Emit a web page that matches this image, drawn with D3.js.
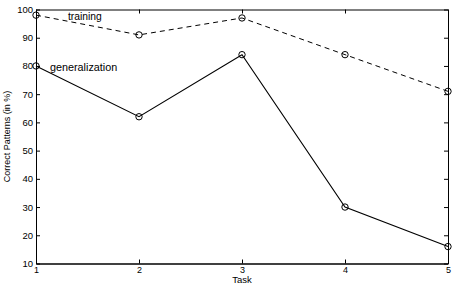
<!DOCTYPE html>
<html><head><meta charset="utf-8">
<script src="https://cdn.jsdelivr.net/npm/d3@7"></script>
<style>body{margin:0;background:#fff}svg{display:block}text{font-family:"Liberation Sans",Arial,sans-serif}</style>
</head><body><svg id="c" width="454" height="290"></svg>
<script>
const tasks = [1, 2, 3, 4, 5];
const training = [98, 91, 97, 84, 71];
const generalization = [80, 62, 84, 30, 16];
const yTicks = [10, 20, 30, 40, 50, 60, 70, 80, 90, 100];

(function () {
const svg = d3.select("#c");
const L = 36, R = 448, T = 9.5, B = 263.5;
const x = d3.scaleLinear().domain([1, 5]).range([L, R]);
const y = d3.scaleLinear().domain([10, 100]).range([B, T]);

const ax = (gen, tx, ty) => svg.append("g").attr("transform", `translate(${tx},${ty})`).call(gen);
const axB = ax(d3.axisBottom(x).tickValues(tasks).tickFormat(d3.format("d")).tickSizeInner(-4).tickSizeOuter(0).tickPadding(3), 0, B);
ax(d3.axisTop(x).tickValues(tasks).tickFormat("").tickSizeInner(-4).tickSizeOuter(0), 0, T);
ax(d3.axisLeft(y).tickValues(yTicks).tickFormat(d3.format("d")).tickSizeInner(-4).tickSizeOuter(0).tickPadding(3), L, 0);
ax(d3.axisRight(y).tickValues(yTicks).tickFormat("").tickSizeInner(-4).tickSizeOuter(0), R, 0);
svg.selectAll(".domain").attr("stroke", "#000").attr("stroke-width", 1);
svg.selectAll(".tick line").attr("stroke", "#000");
svg.selectAll(".tick text").attr("font-size", 9.5).attr("fill", "#000").attr("font-family", "Liberation Sans, Arial, sans-serif");
axB.selectAll(".tick text").attr("font-size", 9);
axB.selectAll(".domain").attr("stroke-width", 1.5);

const line = d3.line().x((d, i) => x(tasks[i])).y(d => y(d));
svg.append("path").datum(training).attr("d", line).attr("fill", "none").attr("stroke", "#000").attr("stroke-width", 1).attr("stroke-dasharray", "5,4");
svg.append("path").datum(generalization).attr("d", line).attr("fill", "none").attr("stroke", "#000").attr("stroke-width", 1.1);

[training, generalization].forEach(s => {
  svg.append("g").selectAll("circle").data(s).join("circle")
    .attr("cx", (d, i) => x(tasks[i])).attr("cy", d => y(d)).attr("r", 3.2)
    .attr("fill", "none").attr("stroke", "#000").attr("stroke-width", 1);
});

svg.append("text").attr("x", 68).attr("y", 20).attr("font-size", 10.3).text("training");
svg.append("text").attr("x", 50).attr("y", 71).attr("font-size", 10.8).text("generalization");
svg.append("text").attr("x", (L + R) / 2).attr("y", 283).attr("text-anchor", "middle").attr("font-size", 9.5).text("Task");
svg.append("text").attr("transform", `translate(10,${(T + B) / 2}) rotate(-90)`).attr("text-anchor", "middle").attr("font-size", 9).text("Correct Patterns (in %)");
})();
</script></body></html>
